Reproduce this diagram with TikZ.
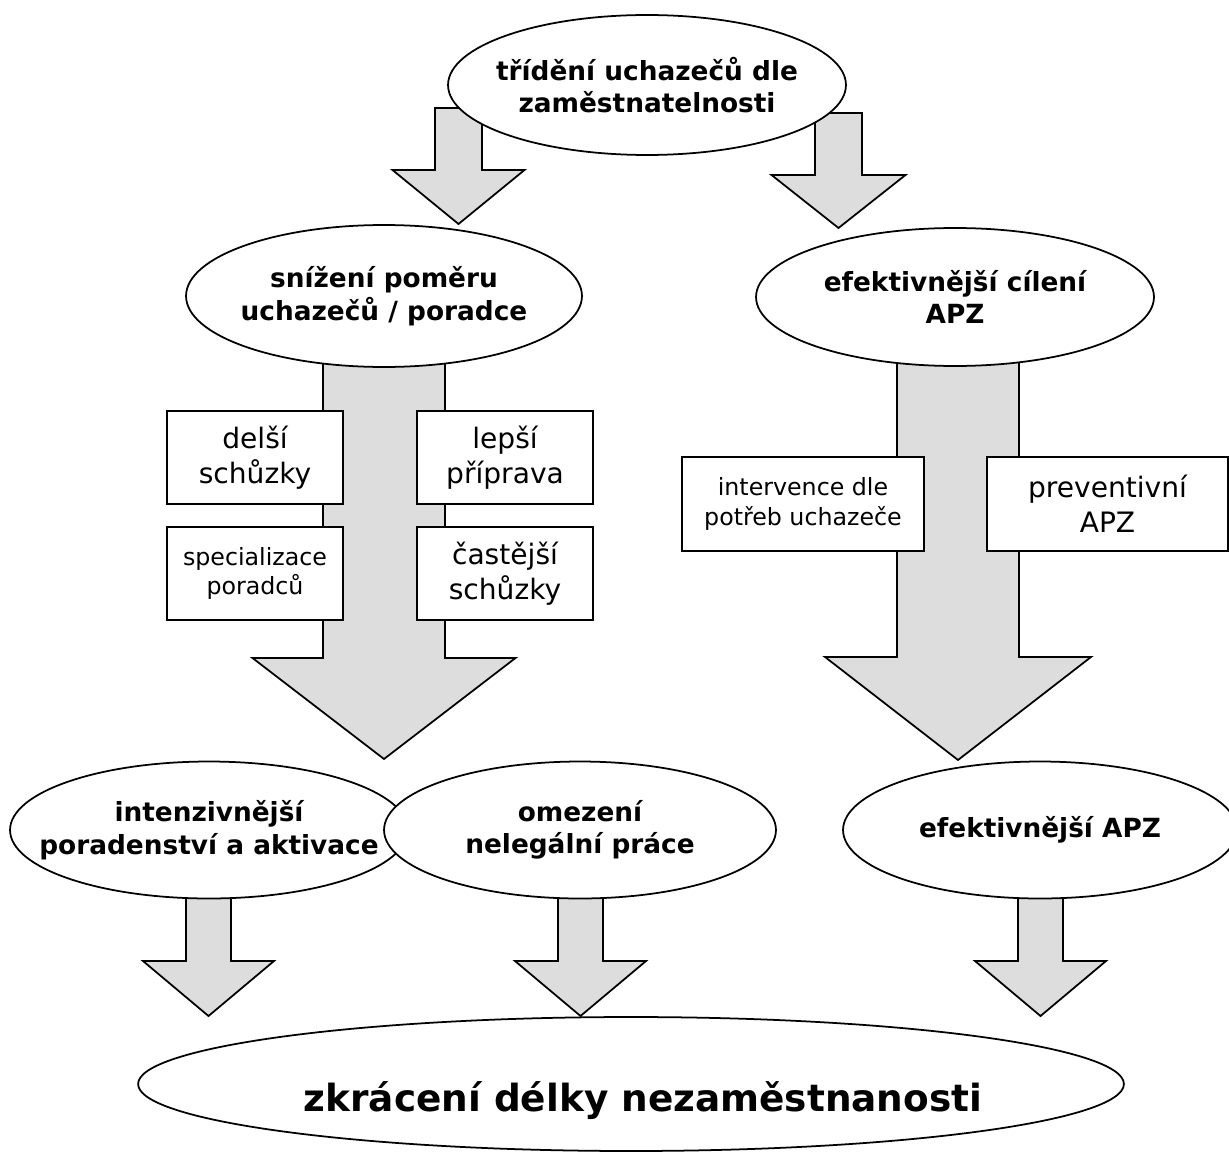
\documentclass[tikz,border=0pt]{standalone}
\usepackage{fontspec}
\setmainfont{DejaVu Sans}
\usepackage{tikz}
\usetikzlibrary{shapes.geometric, positioning}

\definecolor{arrowgray}{RGB}{221,221,221}

% block arrow pointing down: x, top, head start, tip, half shaft, half head
\newcommand{\fatarrow}[6]{%
  \filldraw[arrowbody] ({#1-#5},#2) -- ({#1-#5},#3) -- ({#1-#6},#3) -- (#1,#4)
    -- ({#1+#6},#3) -- ({#1+#5},#3) -- ({#1+#5},#2) -- cycle;}

\begin{document}
\begin{tikzpicture}[x=0.02cm, y=-0.02cm, line width=1pt,
    arrowbody/.style={draw=black, fill=arrowgray, line width=1pt},
    oval/.style={ellipse, draw, fill=white, inner sep=0pt},
    ovaltext/.style={align=center, inner sep=0pt,
      font=\fontsize{15}{18.5}\selectfont\bfseries},
    bigbox/.style={rectangle, draw, fill=white, inner sep=0pt, align=center,
      minimum width=3.52cm, minimum height=1.86cm,
      font=\fontsize{16}{20}\selectfont},
    smallbox/.style={bigbox, font=\fontsize{13.5}{17}\selectfont}]
    \useasboundingbox (0,0) rectangle (1229,1152);

    % arrows behind the ovals
    \fatarrow{458.5}{108}{170}{224}{23.5}{66}
    \fatarrow{838.5}{113}{175}{228}{23.5}{67}
    \fatarrow{384}{360}{658}{759}{61}{131.5}
    \fatarrow{958}{360}{657}{760}{61}{133}
    \fatarrow{208.5}{895}{961}{1016}{22.5}{65.5}
    \fatarrow{580.5}{895}{961}{1016}{22.5}{65.5}
    \fatarrow{1040.5}{895}{961}{1016}{22.5}{65.5}

    \node[oval, minimum width=7.96cm, minimum height=2.8cm,
        label={[ovaltext]center:{třídění uchazečů dle\\zaměstnatelnosti}}] (sort) at (647,85) {};
    \node[oval, minimum width=7.92cm, minimum height=2.84cm,
        label={[ovaltext]center:{snížení poměru\\uchazečů / poradce}}] (ratio) at (384,296) {};
    \node[oval, minimum width=7.96cm, minimum height=2.76cm,
        label={[ovaltext]center:{efektivnější cílení\\APZ}}] (target) at (955,297) {};

    \node[bigbox] (longer) at (255,457.5) {delší\\schůzky};
    \node[bigbox] (prep) at (505,457.5) {lepší\\příprava};
    \node[smallbox] (spec) at (255,573.5) {specializace\\poradců};
    \node[bigbox] (often) at (505,573.5) {častější\\schůzky};
    \node[smallbox, minimum width=4.84cm, minimum height=1.88cm] (needs) at (803,504)
        {intervence dle\\potřeb uchazeče};
    \node[bigbox, minimum width=4.82cm, minimum height=1.88cm] (prevent) at (1107.5,504)
        {preventivní\\APZ};

    \node[oval, minimum width=7.96cm, minimum height=2.74cm,
        label={[ovaltext]center:{intenzivnější\\poradenství a aktivace}}] (intense) at (209,830) {};
    \node[oval, minimum width=7.84cm, minimum height=2.74cm,
        label={[ovaltext]center:{omezení\\nelegální práce}}] (illegal) at (580,830) {};
    \node[oval, minimum width=7.88cm, minimum height=2.74cm,
        label={[ovaltext]center:{efektivnější APZ}}] (apz) at (1040,830) {};

    \node[oval, minimum width=19.72cm, minimum height=2.68cm,
        label={[ovaltext, xshift=0.24cm, yshift=-0.34cm,
          font=\fontsize{21.3}{25}\selectfont\bfseries]center:{zkrácení délky nezaměstnanosti}}]
        (shorter) at (631,1084) {};
\end{tikzpicture}
\end{document}
